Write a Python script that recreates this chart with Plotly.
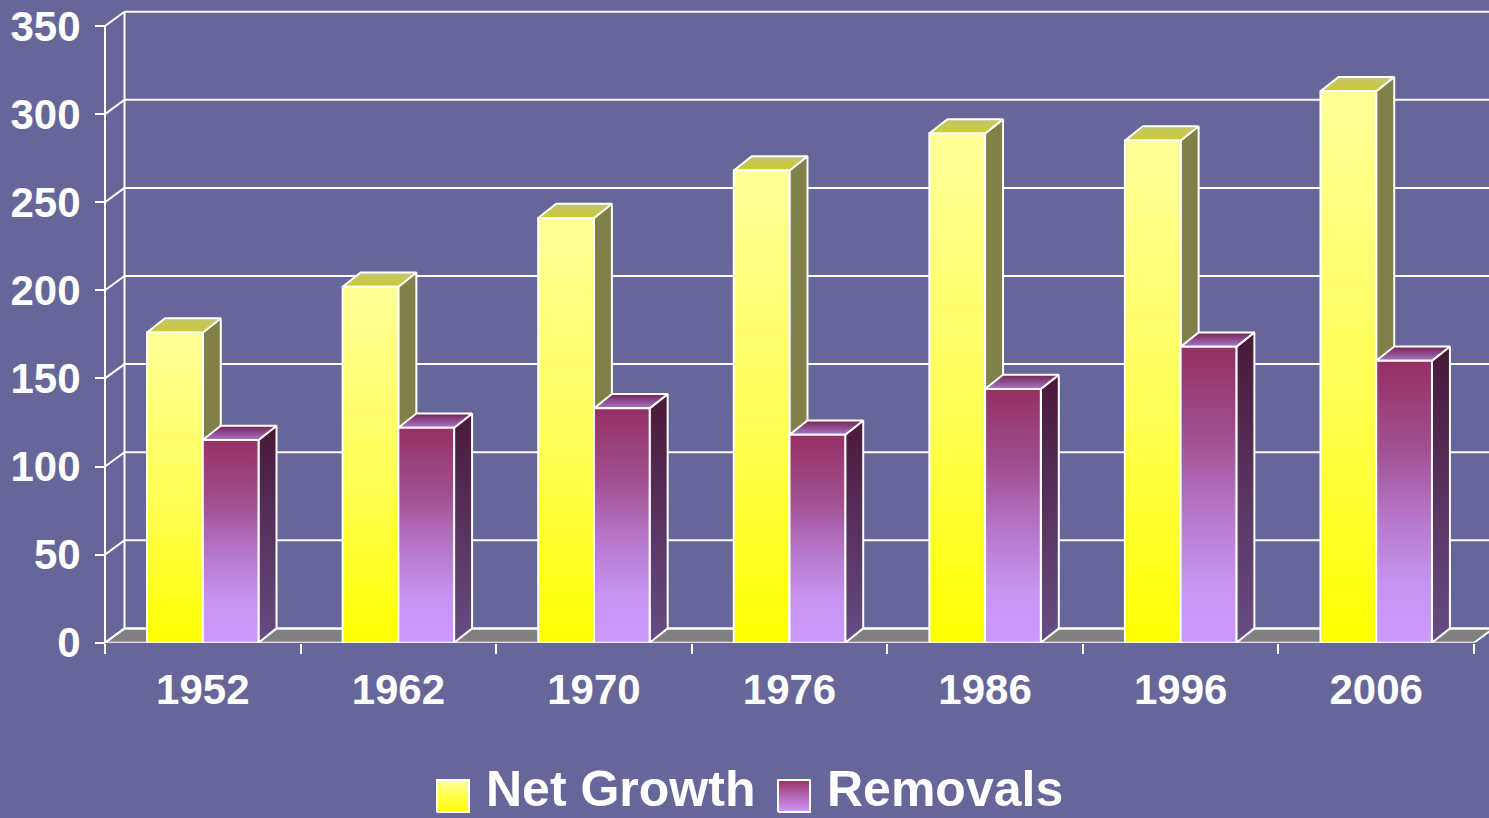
import plotly.graph_objects as go

# ---------------- data ----------------
years = ["1952", "1962", "1970", "1976", "1986", "1996", "2006"]
net_growth = [176, 202, 241, 268, 289, 285, 313]
removals = [115, 122, 133, 118, 144, 168, 160]
y_ticks = [0, 50, 100, 150, 200, 250, 300, 350]
series_names = ["Net Growth", "Removals"]

# ---------------- geometry / style ----------------
W, H = 1489, 818
ML = 100
PX_PER_CAT = 195.57
PX_PER_UNIT = 1.762
Y0_PX = 642.7
X0 = -0.5 - 5 / PX_PER_CAT
X1 = X0 + (W - ML) / PX_PER_CAT
YTOP = Y0_PX / PX_PER_UNIT
YDOM0 = (H - Y0_PX) / H

BAR_W = 0.285
BAR_DX = 18 / PX_PER_CAT
BAR_DY = 14.3 / PX_PER_UNIT
WALL_DX = 19.5 / PX_PER_CAT
WALL_DY = 14.3 / PX_PER_UNIT

BG = "#666699"
FONT = "Liberation Sans, Arial, sans-serif"

styles = {
    "Net Growth": dict(
        front=[[0, "#FFFF00"], [0.45, "#FFFF55"], [1, "#FFFF99"]],
        side=[[0, "#808048"], [1, "#808048"]],
        top=[[0, "#CCCC22"], [1, "#C4C47A"]],
    ),
    "Removals": dict(
        front=[[0, "#CC99FF"], [0.2, "#C794F2"], [0.45, "#B576C8"],
               [0.7, "#A04E8E"], [1, "#953063"]],
        side=[[0, "#664D85"], [1, "#4A1838"]],
        top=[[0, "#A878C8"], [0.5, "#8E4C8E"], [1, "#73244C"]],
    ),
}

fig = go.Figure()


def poly(xs, ys, cscale=None, fill=None, xa="x", ya="y", lw=2):
    kw = dict(fillgradient=dict(type="vertical", colorscale=cscale)) if cscale else dict(fillcolor=fill)
    fig.add_trace(go.Scatter(
        x=list(xs) + [xs[0]], y=list(ys) + [ys[0]], mode="lines", fill="toself",
        line=dict(color="white", width=lw), hoverinfo="skip", showlegend=False,
        xaxis=xa, yaxis=ya, **kw))


# ---------------- floor ----------------
xl, xr = -0.5, len(years) - 0.5
poly([xl, xr, xr + WALL_DX, xl + WALL_DX], [0, 0, WALL_DY, WALL_DY], fill="#808080")

# ---------------- walls / gridlines ----------------
gx, gy = [], []
for v in y_ticks:
    gx += [xl + WALL_DX, X1 + 1, None, xl, xl + WALL_DX, None]
    gy += [v + WALL_DY, v + WALL_DY, None, v, v + WALL_DY, None]
gx += [xl + WALL_DX, xl + WALL_DX, None, xl, xl, None]
gy += [WALL_DY, y_ticks[-1] + WALL_DY, None, 0, y_ticks[-1], None]
fig.add_trace(go.Scatter(x=gx, y=gy, mode="lines", line=dict(color="white", width=2),
                         hoverinfo="skip", showlegend=False))

# ---------------- bars ----------------
for i in range(len(years)):
    for k, (name, vals) in enumerate(zip(series_names, [net_growth, removals])):
        st = styles[name]
        h = vals[i]
        a = i - BAR_W + k * BAR_W
        b = a + BAR_W
        poly([b, b + BAR_DX, b + BAR_DX, b], [0, BAR_DY, h + BAR_DY, h], cscale=st["side"])
        poly([a, b, b + BAR_DX, a + BAR_DX], [h, h, h + BAR_DY, h + BAR_DY], cscale=st["top"])
        poly([a, b, b, a], [0, 0, h, h], cscale=st["front"])

# ---------------- custom legend (pixel coordinates on x3/y3) ----------------
legend_items = [
    dict(name=series_names[0], sx=437, tx=484, cs=[[0, "#FFFF00"], [1, "#FFFF99"]]),
    dict(name=series_names[1], sx=778, tx=825, cs=[[0, "#CC99FF"], [1, "#993366"]]),
]
for it in legend_items:
    s0 = it["sx"]
    poly([s0, s0 + 32, s0 + 32, s0], [812, 812, 780, 780], cscale=it["cs"], xa="x3", ya="y3", lw=2)
    fig.add_annotation(x=it["tx"], y=789, xref="x3", yref="y3", text=it["name"],
                       showarrow=False, xanchor="left", yanchor="middle",
                       font=dict(family=FONT, size=50, color="white", weight="bold"))

fig.add_trace(go.Scatter(x=[0], y=[0], xaxis="x2", yaxis="y", mode="markers",
                         marker=dict(opacity=0), hoverinfo="skip", showlegend=False))

tickfont = dict(family=FONT, size=42, color="white", weight="bold")
fig.update_layout(
    width=W, height=H, showlegend=False,
    paper_bgcolor=BG, plot_bgcolor=BG,
    margin=dict(l=ML, r=0, t=0, b=0, pad=0, autoexpand=False),
    xaxis=dict(domain=[0, 1], range=[X0, X1], anchor="y", tickvals=list(range(len(years))),
               ticktext=years, ticks="", showgrid=False, zeroline=False, showline=False,
               tickfont=tickfont, ticklabelstandoff=18, automargin=False),
    xaxis2=dict(overlaying="x", anchor="y", range=[X0, X1], side="bottom",
                tickvals=[i - 0.5 for i in range(len(years) + 1)], ticks="outside",
                ticklen=10, tickwidth=2, tickcolor="white", showticklabels=False,
                showgrid=False, zeroline=False, showline=False, automargin=False),
    yaxis=dict(domain=[YDOM0, 1], range=[0, YTOP], anchor="free", position=5 / (W - ML),
               tickvals=y_ticks, ticks="outside", ticklen=10, tickwidth=2, tickcolor="white",
               showgrid=False, zeroline=False, showline=False, tickfont=tickfont,
               ticklabelstandoff=6, automargin=False),
    xaxis3=dict(domain=[0, 1], anchor="y3", range=[ML, W], visible=False, automargin=False),
    yaxis3=dict(domain=[0, 0.2], anchor="x3", range=[H, H - 0.2 * H], visible=False,
                automargin=False),
)

css = ("document.documentElement.style.margin='0';document.body.style.margin='0';"
       "document.documentElement.style.overflow='hidden';document.body.style.overflow='hidden';"
       "document.body.style.background='#666699';")

fig.write_html("out.html", config={"displayModeBar": False}, post_script=css)
